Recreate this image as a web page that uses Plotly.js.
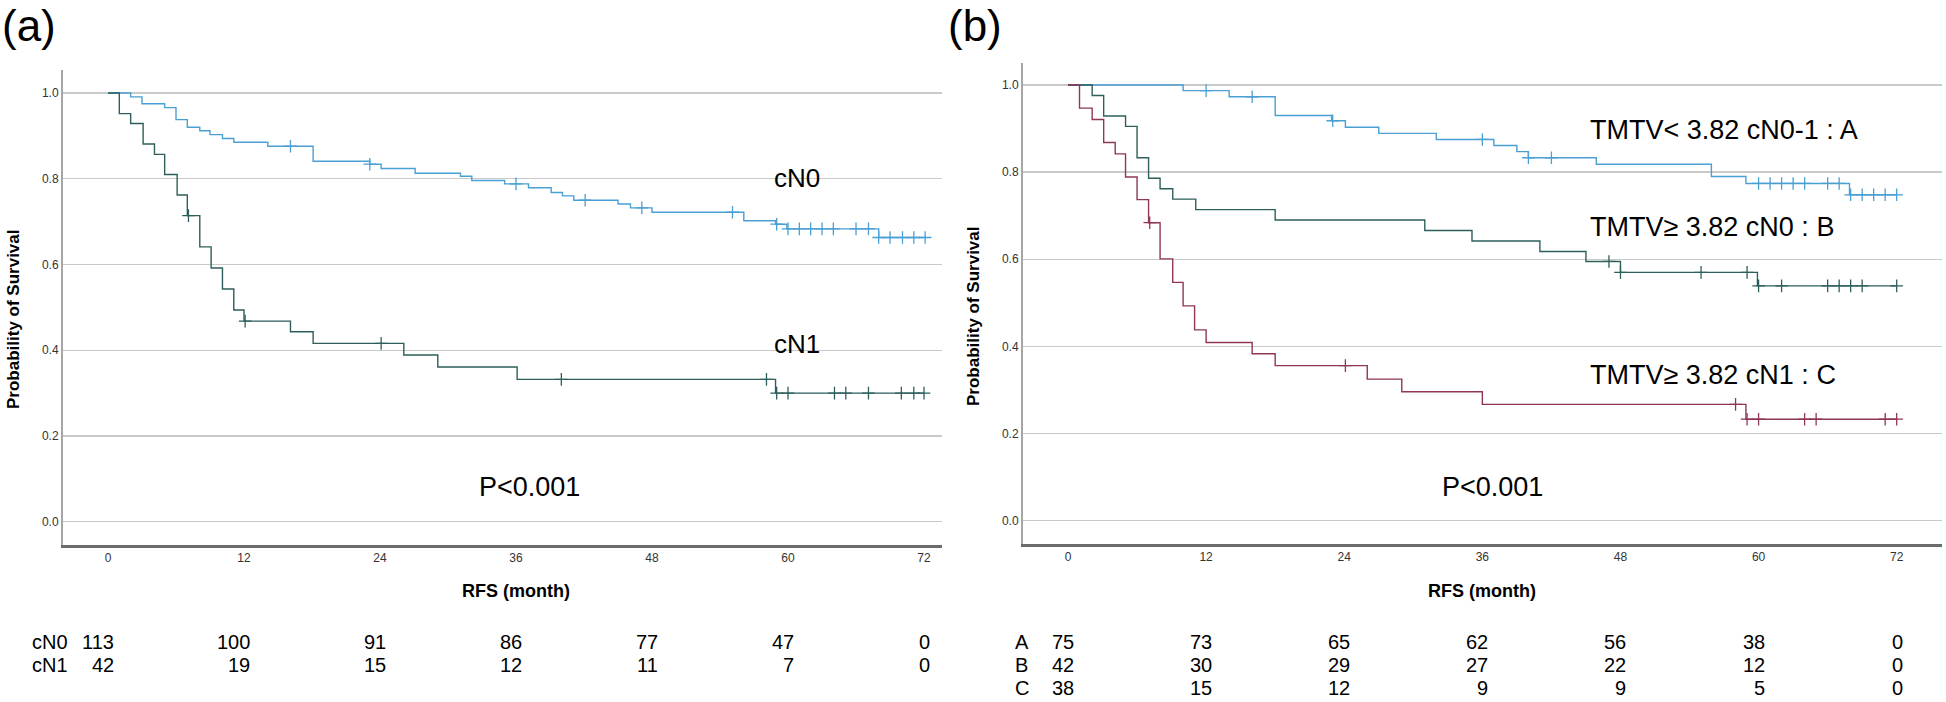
<!DOCTYPE html>
<html>
<head>
<meta charset="utf-8">
<script src="https://cdn.plot.ly/plotly-3.0.1.min.js"></script>
<style>
  html, body { margin: 0; padding: 0; background: #fff; }
  #chart { width: 1946px; height: 702px; }
</style>
</head>
<body>
<div id="chart"></div>
<script>
// ---- data ----
// panel (a): event times (months) and survival after each step
var cN0Times = [0, 2.0, 3.0, 5.0, 6.0, 7.0, 8.1, 9.0, 10.1, 11.1, 14.1, 18.1, 23.1, 24.1, 27.1, 31.1, 32.1, 35.0, 37.1, 39.1, 40.1, 41.1, 45.0, 46.1, 48.0, 56.1, 58.9, 59.9, 68.0];
var cN0Surv  = [1.0, 0.991, 0.975, 0.966, 0.938, 0.920, 0.912, 0.903, 0.894, 0.885, 0.876, 0.841, 0.834, 0.824, 0.813, 0.806, 0.796, 0.788, 0.779, 0.768, 0.760, 0.750, 0.741, 0.732, 0.722, 0.702, 0.694, 0.683, 0.663];
var cN0Censor = [16.1, 23.1, 36.0, 42.1, 47.1, 55.1, 59.0, 60.0, 61.0, 62.0, 63.0, 64.0, 66.0, 67.1, 68.0, 69.0, 70.1, 71.1, 72.1];

var cN1Times = [0, 1.0, 2.0, 3.1, 4.1, 5.0, 6.1, 7.0, 8.1, 9.1, 10.1, 11.1, 12.0, 16.1, 18.1, 26.1, 29.1, 36.1, 58.9];
var cN1Surv  = [1.0, 0.952, 0.929, 0.881, 0.857, 0.810, 0.762, 0.714, 0.641, 0.592, 0.543, 0.494, 0.468, 0.443, 0.416, 0.389, 0.361, 0.332, 0.300];
var cN1Censor = [7.1, 12.1, 24.1, 40.0, 58.1, 59.0, 60.0, 64.1, 65.1, 67.1, 70.0, 71.1, 72.0];

// panel (b)
var aTimes = [0, 10.0, 14.0, 18.0, 22.9, 24.1, 27.0, 32.0, 37.0, 39.0, 40.0, 45.9, 55.9, 58.9, 67.9];
var aSurv  = [1.0, 0.987, 0.973, 0.930, 0.918, 0.903, 0.889, 0.875, 0.861, 0.847, 0.833, 0.818, 0.790, 0.774, 0.748];
var aCensor = [12.0, 16.0, 23.0, 36.0, 40.0, 42.0, 60.0, 61.0, 62.0, 63.0, 64.0, 66.0, 67.0, 68.0, 69.0, 70.0, 71.0, 72.0];

var bTimes = [0, 2.1, 3.1, 5.0, 6.0, 7.0, 8.0, 9.1, 11.1, 18.0, 31.0, 35.1, 41.0, 45.0, 48.0, 59.9];
var bSurv  = [1.0, 0.976, 0.929, 0.905, 0.833, 0.786, 0.762, 0.738, 0.714, 0.690, 0.666, 0.642, 0.618, 0.595, 0.570, 0.539];
var bCensor = [47.0, 48.0, 55.0, 59.0, 60.0, 62.0, 66.0, 67.0, 68.0, 69.0, 72.0];

var cTimes = [0, 1.0, 2.1, 3.1, 4.1, 5.0, 6.0, 7.0, 8.0, 9.1, 10.0, 11.0, 12.0, 16.0, 18.0, 26.0, 29.0, 36.0, 58.9];
var cSurv  = [1.0, 0.947, 0.921, 0.868, 0.842, 0.789, 0.737, 0.684, 0.601, 0.547, 0.493, 0.438, 0.409, 0.383, 0.356, 0.325, 0.296, 0.267, 0.233];
var cCensor = [7.1, 24.1, 58.0, 59.0, 60.0, 64.0, 65.0, 71.0, 72.0];

// numbers at risk
var riskTimes = [0, 12, 24, 36, 48, 60, 72];
var riskA = {cN0: [113, 100, 91, 86, 77, 47, 0], cN1: [42, 19, 15, 12, 11, 7, 0]};
var riskB = {A: [75, 73, 65, 62, 56, 38, 0], B: [42, 30, 29, 27, 22, 12, 0], C: [38, 15, 12, 9, 9, 5, 0]};

var blue = '#4a9fd4', teal = '#2d5f5c', maroon = '#8e3658';
var FONT = 'Arial, "Liberation Sans", sans-serif';
var W = 1946, H = 702;

function px(x) { return x / W; }
function py(y) { return 1 - y / H; }

// survival value at time t from the step function
function survAt(times, surv, t) {
    var s = surv[0];
    for (var i = 0; i < times.length; i++) {
        if (times[i] <= t) s = surv[i];
    }
    return s;
}

function kmTraces(times, surv, censor, color, xa, ya) {
    var last = Math.max(censor[censor.length - 1], times[times.length - 1]);
    var line = {
        x: times.concat([last]),
        y: surv.concat([surv[surv.length - 1]]),
        xaxis: xa, yaxis: ya,
        mode: 'lines', type: 'scatter',
        line: {shape: 'hv', color: color, width: 1.4},
        hoverinfo: 'none', showlegend: false
    };
    var marks = {
        x: censor,
        y: censor.map(function(t) { return survAt(times, surv, t); }),
        xaxis: xa, yaxis: ya,
        mode: 'markers', type: 'scatter',
        marker: {symbol: 'cross-thin', size: 9, line: {color: color, width: 1.3}},
        hoverinfo: 'none', showlegend: false
    };
    return [line, marks];
}

var data = []
    .concat(kmTraces(cN0Times, cN0Surv, cN0Censor, blue, 'x', 'y'))
    .concat(kmTraces(cN1Times, cN1Surv, cN1Censor, teal, 'x', 'y'))
    .concat(kmTraces(aTimes, aSurv, aCensor, blue, 'x2', 'y2'))
    .concat(kmTraces(bTimes, bSurv, bCensor, teal, 'x2', 'y2'))
    .concat(kmTraces(cTimes, cSurv, cCensor, maroon, 'x2', 'y2'));

function xAxis(domain, range, anchor) {
    return {
        domain: domain, range: range, anchor: anchor,
        tickmode: 'array', tickvals: riskTimes,
        ticks: '', showgrid: false, zeroline: false,
        showline: true, linecolor: '#6b6b6b', linewidth: 2.5,
        tickfont: {size: 12, color: '#333', family: FONT},
        fixedrange: true
    };
}
function yAxis(domain, range, anchor) {
    return {
        domain: domain, range: range, anchor: anchor,
        tickvals: [0, 0.2, 0.4, 0.6, 0.8, 1.0], tickformat: '.1f',
        ticks: '', showgrid: true, gridcolor: '#c9c9c9', gridwidth: 1.3,
        zeroline: false,
        showline: true, linecolor: '#a6a6a6', linewidth: 2,
        tickfont: {size: 12, color: '#333', family: FONT},
        fixedrange: true
    };
}

var annotations = [];
function txt(text, x, y, size, opts) {
    var a = {
        text: text, x: x, y: y, xref: 'paper', yref: 'paper',
        xanchor: 'left', yanchor: 'middle', showarrow: false,
        font: {size: size, color: '#000', family: FONT}
    };
    for (var k in opts) a[k] = opts[k];
    annotations.push(a);
}

// panel labels and annotations
txt('(a)', px(0), py(25), 44);
txt('(b)', px(946), py(25), 44);
txt('cN0', px(772), py(178), 26);
txt('cN1', px(772), py(344), 26);
txt('P&lt;0.001', px(477), py(487), 27);
txt('P&lt;0.001', px(1440), py(487), 27);
txt('TMTV&lt; 3.82 cN0-1 : A', px(1588), py(130), 27);
txt('TMTV≥ 3.82 cN0 : B', px(1588), py(227), 27);
txt('TMTV≥ 3.82 cN1 : C', px(1588), py(375), 27);

// axis titles
txt('<b>RFS (month)</b>', 36, py(591), 18, {xref: 'x', xanchor: 'center'});
txt('<b>RFS (month)</b>', 36, py(591), 18, {xref: 'x2', xanchor: 'center'});
txt('<b>Probability of Survival</b>', px(13), py(319), 17, {textangle: -90, xanchor: 'center'});
txt('<b>Probability of Survival</b>', px(973), py(316), 17, {textangle: -90, xanchor: 'center'});

// numbers at risk
function riskRows(table, xref, labelX, rowYs) {
    Object.keys(table).forEach(function(name, r) {
        txt(name, px(labelX), py(rowYs[r]), 20);
        table[name].forEach(function(n, i) {
            txt(String(n), riskTimes[i], py(rowYs[r]), 20, {xref: xref, xanchor: 'right', xshift: 8});
        });
    });
}
riskRows(riskA, 'x', 30, [642, 665]);
riskRows(riskB, 'x2', 1013, [642, 665, 688]);

var layout = {
    width: W, height: H,
    margin: {l: 0, r: 0, t: 0, b: 0},
    paper_bgcolor: '#fff', plot_bgcolor: '#fff',
    showlegend: false,
    font: {family: FONT},
    xaxis: xAxis([px(63), px(941.7)], [-3.97, 73.56], 'y'),
    yaxis: yAxis([py(545), py(70)], [-0.0543, 1.0537], 'x'),
    xaxis2: xAxis([px(1023), px(1941.7)], [-3.91, 75.91], 'y2'),
    yaxis2: yAxis([py(544), py(62.7)], [-0.0535, 1.0512], 'x2'),
    annotations: annotations
};

Plotly.newPlot('chart', data, layout, {displayModeBar: false, staticPlot: true});
</script>
</body>
</html>
